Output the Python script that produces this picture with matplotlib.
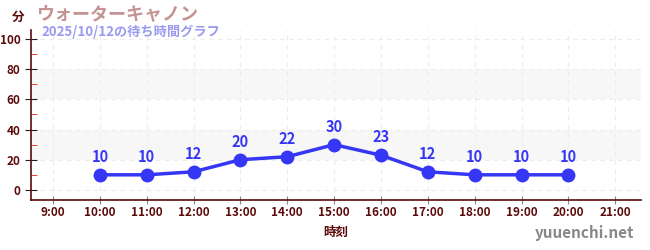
import matplotlib.pyplot as plt
from matplotlib.ticker import MultipleLocator

plt.rcParams['font.family'] = ['Noto Sans CJK JP', 'DejaVu Sans']

hours = [10, 11, 12, 13, 14, 15, 16, 17, 18, 19, 20]
waits = [10, 10, 12, 20, 22, 30, 23, 12, 10, 10, 10]
tick_hours = list(range(9, 22))
tick_labels = ['%d:00' % h for h in tick_hours]

axis_color = '#5c0a0a'
line_color = '#3636f5'

fig = plt.figure(figsize=(6.5, 2.5), dpi=100)
ax = fig.add_axes([31 / 650, 50 / 250, 610 / 650, 170 / 250])

ax.set_xlim(8.53, 21.55)
ax.set_ylim(-6.7, 106)

# alternating bands
for lo, hi in [(20, 40), (60, 80)]:
    ax.axhspan(lo, hi, color='#f7f7f7', zorder=0, lw=0)

ax.grid(True, color='#ececec', linestyle=(0, (4, 4)), linewidth=0.8, zorder=0)
ax.set_axisbelow(True)

ax.plot(hours, waits, color=line_color, linewidth=2.5, marker='o', markersize=9, zorder=3)
for h, w in zip(hours, waits):
    ax.annotate(str(w), (h, w), xytext=(0, 7), textcoords='offset points',
                ha='center', va='bottom', color=line_color, fontsize=10.5, fontweight='bold')

ax.set_xticks(tick_hours)
ax.set_xticklabels(tick_labels)
ax.yaxis.set_major_locator(MultipleLocator(20))
ax.yaxis.set_minor_locator(MultipleLocator(10))

for s in ['top', 'right']:
    ax.spines[s].set_visible(False)
for s in ['left', 'bottom']:
    ax.spines[s].set_color(axis_color)
    ax.spines[s].set_linewidth(1.2)

ax.tick_params(axis='both', which='major', colors=axis_color, labelsize=8.5, length=5)
ax.tick_params(axis='x', which='major', direction='inout', length=6, color='#888888', pad=1)
ax.tick_params(axis='y', which='major', direction='inout', length=8, color='#222222')
ax.tick_params(axis='y', which='minor', direction='in', length=4, color='#dd2222')
for lbl in ax.get_xticklabels() + ax.get_yticklabels():
    lbl.set_fontweight('bold')

ax.set_xlabel('時刻', color=axis_color, fontsize=9, fontweight='bold', labelpad=5)

fig.text(18 / 650, 1 - 17 / 250, '分', color=axis_color, fontsize=9, fontweight='bold',
         ha='center', va='center')
fig.text(36 / 650, 1 - 14 / 250, 'ウォーターキャノン', color='#c49494', fontsize=13,
         fontweight='bold', ha='left', va='center')
fig.text(41 / 650, 1 - 32 / 250, '2025/10/12の待ち時間グラフ', color='#9a9af0', fontsize=9.5,
         fontweight='bold', ha='left', va='center')
fig.text(634 / 650, 1 - 233 / 250, 'yuuenchi.net', color='#888888', fontsize=11,
         fontweight='bold', ha='right', va='center')

fig.savefig('out.png', dpi=100)
